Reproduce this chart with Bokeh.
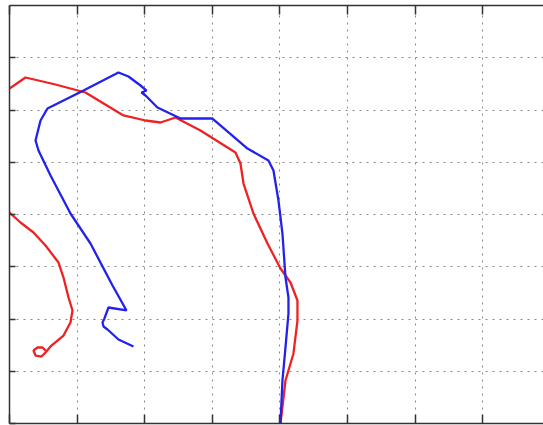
from bokeh.plotting import figure
from bokeh.models import LinearAxis, FixedTicker, Range1d
from bokeh.embed import file_html
from bokeh.resources import INLINE

# Red trajectory (lower part, from the small loop out to the left edge)
red_x = [0.533, 0.488, 0.414, 0.355, 0.385, 0.473, 0.533, 0.607, 0.799, 0.902, 0.932,
         0.873, 0.799, 0.725, 0.533, 0.355, 0.163, 0.0, -0.207]
red_y = [1.397, 1.455, 1.455, 1.397, 1.301, 1.282, 1.359, 1.474, 1.684, 1.933, 2.163,
         2.411, 2.794, 3.081, 3.407, 3.656, 3.847, 4.038, 4.268]
# Red trajectory (upper part, re-entering from the left)
red2_x = [-0.207, 0.0, 0.237, 0.680, 1.124, 1.686, 2.012, 2.234, 2.456, 2.825, 3.343,
          3.417, 3.462, 3.609, 3.817, 4.009, 4.157, 4.260, 4.260, 4.201, 4.083, 4.009]
red2_y = [6.278, 6.411, 6.622, 6.488, 6.335, 5.895, 5.799, 5.761, 5.856, 5.608, 5.187,
          4.976, 4.593, 4.019, 3.445, 2.967, 2.699, 2.354, 1.971, 1.340, 0.823, 0.0]

# Blue trajectory
blue_x = [1.834, 1.612, 1.450, 1.391, 1.376, 1.405, 1.464, 1.731, 1.524, 1.198, 0.902,
          0.607, 0.429, 0.385, 0.459, 0.562, 1.095, 1.612, 1.760, 1.938, 2.027, 1.953,
          2.012, 2.189, 2.530, 3.003, 3.521, 3.831, 3.905, 3.979, 4.038, 4.083, 4.127,
          4.127, 4.083, 4.038, 4.009]
blue_y = [1.474, 1.608, 1.799, 1.856, 1.933, 2.010, 2.220, 2.163, 2.641, 3.445, 4.019,
          4.746, 5.225, 5.416, 5.799, 6.029, 6.373, 6.718, 6.641, 6.469, 6.373, 6.335,
          6.278, 6.048, 5.837, 5.837, 5.263, 5.033, 4.842, 4.268, 3.636, 2.794, 2.411,
          2.105, 1.455, 0.823, 0.0]

x_ticks = [0, 1, 2, 3, 4, 5, 6, 7]
y_ticks = [0, 1, 2, 3, 4, 5, 6, 7]

p = figure(width=543, height=425, output_backend="svg", toolbar_location=None,
           x_range=Range1d(0, 7.9), y_range=Range1d(0, 8),
           x_axis_location=None, y_axis_location=None,
           min_border_left=9, min_border_right=0, min_border_top=5, min_border_bottom=2)
p.outline_line_color = None
p.background_fill_color = "white"

def style_axis(ax, ticks, tick_in):
    ax.ticker = FixedTicker(ticks=ticks)
    ax.major_label_overrides = {t: "" for t in ticks}
    ax.major_label_standoff = 0
    ax.major_tick_in = tick_in
    ax.major_tick_out = 0
    ax.minor_tick_line_color = None
    ax.axis_line_color = "#333333"
    ax.axis_line_width = 1.5
    ax.major_tick_line_color = "#333333"
    ax.major_tick_line_width = 1.5

for loc in ["below", "above"]:
    ax = LinearAxis()
    style_axis(ax, x_ticks, 9)
    p.add_layout(ax, loc)
ay = LinearAxis()
style_axis(ay, y_ticks, 6)
p.add_layout(ay, "left")

p.xgrid.ticker = FixedTicker(ticks=x_ticks)
p.ygrid.ticker = FixedTicker(ticks=y_ticks)
for g in (p.xgrid, p.ygrid):
    g.grid_line_color = "#888888"
    g.grid_line_dash = "2 5"
    g.grid_line_width = 1

p.line(red_x, red_y, line_color="#ee2222", line_width=2.3)
p.line(red2_x, red2_y, line_color="#ee2222", line_width=2.3)
p.line(blue_x, blue_y, line_color="#2222ee", line_width=2.3)

open("out.html", "w").write(file_html(p, INLINE))
